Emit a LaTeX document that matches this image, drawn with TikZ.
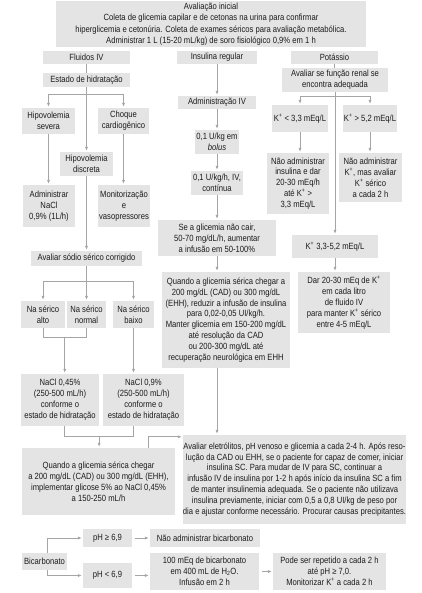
\documentclass[tikz,border=0pt]{standalone}
\usepackage{fontspec}
\setmainfont{Liberation Sans}[FakeStretch=0.85]
\usetikzlibrary{arrows.meta,calc}
\definecolor{boxgray}{RGB}{228,228,228}
\definecolor{linegray}{RGB}{165,165,165}
\definecolor{txt}{RGB}{30,28,28}
\tikzset{
 box/.style={fill=boxgray, inner sep=0pt, align=center, text=txt, font=\fontsize{9}{10.9}\selectfont},
 ln/.style={draw=linegray, line width=0.7pt},
 arr/.style={ln, -{Latex[length=4pt,width=3.2pt]}, shorten >=1pt},
}
\newcommand{\bx}[7][]{\node[box,#1, minimum width={(#5-#3)*1pt}, minimum height={(#6-#4)*1pt}] (#2) at ({(#3+#5)/2},{(#4+#6)/2}) {#7};}
\begin{document}
\begin{tikzpicture}[x=1pt,y=-1pt]
\useasboundingbox (0,0) rectangle (421,593);
% top
\bx[font=\fontsize{9}{11.5}\selectfont]{top}{56}{1}{366}{47}{Avaliação inicial\\Coleta de glicemia capilar e de cetonas na urina para confirmar\\hiperglicemia e cetonúria. Coleta de exames séricos para avaliação metabólica.\\Administrar 1 L (15-20 mL/kg) de soro fisiológico 0,9\% em 1 h}
\bx{fl}{43}{51}{130}{64}{Fluidos IV}
\bx{ins}{177}{51}{257}{64}{Insulina regular}
\bx{pot}{291}{51}{378}{64}{Potássio}
% column 1
\bx{est}{43}{73}{130}{87}{Estado de hidratação}
\bx{sev}{22}{108}{75}{134}{Hipovolemia\\severa}
\bx{cho}{98}{108}{149}{134}{Choque\\cardiogênico}
\bx{dis}{60}{152}{113}{176}{Hipovolemia\\discreta}
\bx{adm}{23}{185}{75}{227}{Administrar\\NaCl\\0,9\% (1L/h)}
\bx{mon}{98}{185}{150}{227}{Monitorização\\e\\vasopressores}
\bx{sod}{31}{251}{142}{266}{Avaliar sódio sérico corrigido}
\bx{alto}{21}{301}{65}{328}{Na sérico\\alto}
\bx{normal}{67}{301}{106}{328}{Na sérico\\normal}
\bx{baixo}{113}{301}{154}{328}{Na sérico\\baixo}
\bx{nA}{21}{374}{99}{426}{NaCl 0,45\%\\(250-500 mL/h)\\conforme o\\estado de hidratação}
\bx{nB}{103}{374}{184}{426}{NaCl 0,9\%\\(250-500 mL/h)\\conforme o\\estado de hidratação}
\bx{gli}{22}{448}{175}{515}{Quando a glicemia sérica chegar\\a 200 mg/dL (CAD) ou 300 mg/dL (EHH),\\implementar glicose 5\% ao NaCl 0,45\%\\a 150-250 mL/h}
% column 2
\bx{aiv}{178}{96}{256}{109}{Administração IV}
\bx{bol}{195}{130}{239}{154}{0,1 U/kg em\\\textit{bolus}}
\bx{con}{191}{171}{243}{195}{0,1 U/kg/h, IV,\\contínua}
\bx{sgl}{158}{220}{276}{256}{Se a glicemia não cair,\\50-70 mg/dL/h, aumentar\\a infusão em 50-100\%}
\bx{qin}{162}{272}{290}{368}{Quando a glicemia sérica chegar a\\200 mg/dL (CAD) ou 300 mg/dL\\(EHH), reduzir a infusão de insulina\\para 0,02-0,05 UI/kg/h.\\Manter glicemia em 150-200 mg/dL\\até resolução da CAD\\ou 200-300 mg/dL até\\recuperação neurológica em EHH}
\bx{ava}{184}{435}{405}{524}{Avaliar eletrólitos, pH venoso e glicemia a cada 2-4 h. Após reso-\\lução da CAD ou EHH, se o paciente for capaz de comer, iniciar\\insulina SC. Para mudar de IV para SC, continuar a\\infusão IV de insulina por 1-2 h após início da insulina SC a fim\\de manter insulinemia adequada. Se o paciente não utilizava\\insulina previamente, iniciar com 0,5 a 0,8 UI/kg de peso por\\dia e ajustar conforme necessário. Procurar causas precipitantes.}
% column 3
\bx{ren}{282}{68}{388}{92}{Avaliar se função renal se\\encontra adequada}
\bx{klo}{272}{105}{328}{132}{K\textsuperscript{+} < 3,3 mEq/L}
\bx{khi}{343}{105}{397}{132}{K\textsuperscript{+} > 5,2 mEq/L}
\bx{nai}{267}{153}{329}{214}{Não administrar\\insulina e dar\\20-30 mEq/h\\até K\textsuperscript{+} >\\3,3 mEq/L}
\bx{nak}{339}{153}{402}{202}{Não administrar\\K\textsuperscript{+}, mas avaliar\\K\textsuperscript{+} sérico\\a cada 2 h}
\bx{kmid}{292}{235}{378}{258}{K\textsuperscript{+} 3,3-5,2 mEq/L}
\bx{dar}{298}{272}{390}{333}{Dar 20-30 mEq de K\textsuperscript{+}\\em cada litro\\de fluido IV\\para manter K\textsuperscript{+} sérico\\entre 4-5 mEq/L}
% bottom
\bx{bic}{22}{553}{67}{570}{Bicarbonato}
\bx{phg}{83}{529}{132}{547}{pH ≥ 6,9}
\bx{nab}{150}{529}{260}{547}{Não administrar bicarbonato}
\bx{phl}{83}{563}{132}{588}{pH < 6,9}
\bx{cem}{150}{553}{259}{590}{100 mEq de bicarbonato\\em 400 mL de H\textsubscript{2}O.\\Infusão em 2 h}
\bx{pod}{273}{553}{386}{590}{Pode ser repetido a cada 2 h\\até pH ≥ 7,0.\\Monitorizar K\textsuperscript{+} a cada 2 h}
% connectors column 1
\coordinate (b1) at (0,94);
\coordinate (b2) at (0,281);
\coordinate (j1) at (0,337);
\coordinate (j2) at (0,436);
\draw[ln] (fl.south) -- (est.north);
\draw[arr] (est.south) -- (dis.north);
\draw[arr] (est.south |- b1) -| (sev.north);
\draw[arr] (est.south |- b1) -| (cho.north);
\draw[arr] (sev.south) -- (sev.south |- adm.north);
\draw[arr] (cho.south) -- (cho.south |- mon.north);
\draw[arr] (dis.south) -- (dis.south |- sod.north);
\draw[arr] (sod.south |- b2) -| (alto.north);
\draw[arr] (sod.south |- b2) -| (baixo.north);
\draw[arr] (sod.south) -- (sod.south |- normal.north);
\draw[ln] (alto.south) -- (alto.south |- j1) -- (normal.south |- j1) -- (normal.south);
\coordinate (m1) at ($(alto.south |- j1)!0.5!(normal.south |- j1)$);
\draw[arr] (m1) -- (m1 |- nA.north);
\draw[arr] (baixo.south) -- (baixo.south |- nB.north);
\draw[ln] (m1 |- nA.south) -- (m1 |- j2) -- (baixo.south |- j2) -- (baixo.south |- nB.south);
\coordinate (m2) at ($(m1 |- j2)!0.5!(baixo.south |- j2)$);
\draw[arr] (m2) -- (m2 |- gli.north);
\coordinate (g1) at (148,0);
\draw[arr] (g1 |- gli.north) |- ([yshift=-2pt]ava.north west);
% column 2
\coordinate (c2) at (217,0);
\draw[arr] (c2 |- ins.south) -- (c2 |- aiv.north);
\draw[arr] (c2 |- aiv.south) -- (c2 |- bol.north);
\draw[arr] (c2 |- bol.south) -- (c2 |- con.north);
\draw[arr] (c2 |- con.south) -- (c2 |- sgl.north);
\draw[arr] (c2 |- sgl.south) -- (c2 |- qin.north);
\draw[arr] (c2 |- qin.south) -- (c2 |- ava.north);
% column 3
\coordinate (b3) at (0,96);
\draw[ln] (pot.south) -- (pot.south |- ren.north);
\draw[arr] (ren.south |- b3) -| (klo.north);
\draw[arr] (ren.south |- b3) -| (khi.north);
\draw[arr] (ren.south) -- (ren.south |- kmid.north);
\draw[arr] (klo.south) -- (klo.south |- nai.north);
\draw[arr] (khi.south) -- (khi.south |- nak.north);
\draw[arr] (kmid.south) -- (kmid.south |- dar.north);
% bottom
\draw[arr] ([xshift=3pt]bic.north) |- (phg.west);
\draw[arr] ([xshift=3pt]bic.south) |- (phl.west);
\draw[arr, shorten <=3pt] (phg.east) -- (phg.east -| nab.west);
\draw[arr, shorten <=3pt] (phl.east) -- (phl.east -| cem.west);
\draw[arr, shorten <=3pt] (cem.east |- pod.west) -- (pod.west);
\end{tikzpicture}
\end{document}
